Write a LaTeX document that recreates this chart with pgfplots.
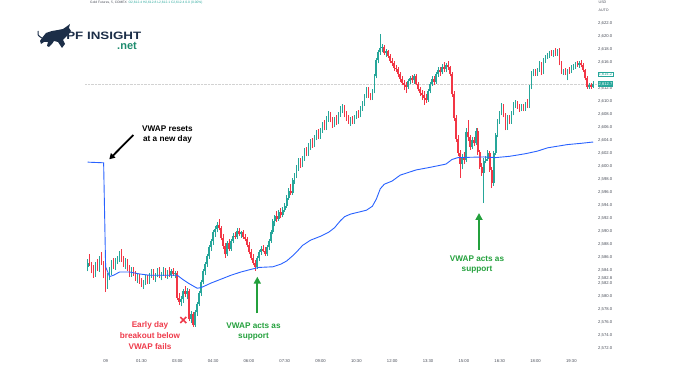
\documentclass[border=0pt]{standalone}
\usepackage{fontspec}
\setmainfont{Liberation Sans}
\usepackage{pgfplots}
\pgfplotsset{compat=1.18}
\usepackage{pgfplotstable}
\usetikzlibrary{arrows.meta}
\definecolor{cgreen}{HTML}{26A69A}
\definecolor{cred}{HTML}{F23645}
\definecolor{vwap}{HTML}{2962FF}
\definecolor{annred}{HTML}{EE3B4B}
\definecolor{anngreen}{HTML}{23A03C}
\definecolor{navy}{HTML}{1C2E48}
\definecolor{netgreen}{HTML}{1E8C6E}
\definecolor{axgray}{HTML}{4A4E59}

\pgfplotstableread{
i o h l c
0 2584.6 2585.8 2583.9 2585.2
1 2585.2 2586.5 2584.7 2584.9
2 2584.9 2585.4 2583.6 2584.1
3 2584.1 2584.8 2582.9 2583.4
4 2583.4 2585.3 2583.0 2584.9
5 2584.9 2585.8 2584.0 2584.3
6 2584.3 2586.2 2583.8 2585.7
7 2585.7 2586.8 2584.9 2585.0
8 2585.0 2585.5 2582.8 2583.3
9 2583.3 2584.8 2580.7 2582.0
10 2582.0 2583.6 2581.2 2583.2
11 2583.2 2584.5 2582.5 2584.0
12 2584.0 2585.6 2583.4 2585.1
13 2585.1 2585.9 2584.2 2584.7
14 2584.7 2586.0 2584.1 2585.6
15 2585.6 2586.3 2585.0 2585.9
16 2585.9 2587.0 2585.3 2586.5
17 2586.5 2587.3 2585.4 2585.7
18 2585.7 2586.2 2584.6 2585.0
19 2585.0 2585.9 2584.2 2585.5
20 2585.5 2585.8 2584.0 2584.3
21 2584.3 2584.9 2583.1 2583.6
22 2583.6 2584.5 2583.0 2584.1
23 2584.1 2584.6 2583.2 2583.4
24 2583.4 2584.0 2582.4 2582.8
25 2582.8 2583.6 2582.1 2583.2
26 2583.2 2583.5 2582.0 2582.3
27 2582.3 2582.9 2581.5 2581.9
28 2581.9 2582.5 2581.2 2582.3
29 2582.3 2583.4 2581.8 2583.0
30 2583.0 2583.3 2581.9 2582.2
31 2582.2 2583.7 2582.0 2583.5
32 2583.5 2584.3 2582.9 2583.9
33 2583.9 2584.2 2582.6 2582.9
34 2582.9 2583.6 2582.3 2583.3
35 2583.3 2584.4 2583.0 2584.0
36 2584.0 2584.5 2582.8 2583.1
37 2583.1 2583.8 2582.5 2583.6
38 2583.6 2584.6 2583.2 2584.2
39 2584.2 2584.4 2582.9 2583.3
40 2583.3 2584.1 2582.7 2583.8
41 2583.8 2584.5 2583.1 2583.4
42 2583.4 2584.2 2582.8 2583.9
43 2583.9 2584.4 2583.2 2583.5
44 2583.5 2584.0 2582.8 2583.7
45 2583.7 2583.9 2579.5 2579.8
46 2579.8 2580.6 2578.7 2579.2
47 2579.2 2580.1 2578.5 2579.6
48 2579.6 2581.2 2579.0 2580.8
49 2580.8 2581.6 2580.0 2580.4
50 2580.4 2581.3 2579.6 2580.9
51 2580.9 2581.2 2576.2 2576.6
52 2576.6 2577.8 2575.9 2577.3
53 2577.3 2577.6 2575.3 2575.6
54 2575.6 2577.9 2575.4 2577.6
55 2577.6 2579.2 2577.0 2578.9
56 2578.9 2580.8 2578.6 2580.5
57 2580.5 2582.6 2580.1 2582.3
58 2582.3 2584.2 2581.9 2583.9
59 2583.9 2585.4 2583.3 2585.0
60 2585.0 2586.6 2584.6 2586.2
61 2586.2 2587.9 2585.8 2587.6
62 2587.6 2588.9 2587.1 2588.5
63 2588.5 2590.3 2588.0 2589.9
64 2589.9 2590.8 2589.2 2590.4
65 2590.4 2591.5 2589.9 2591.0
66 2591.0 2591.9 2590.2 2590.5
67 2590.5 2590.8 2588.7 2589.0
68 2589.0 2589.6 2587.4 2587.8
69 2587.8 2588.3 2586.0 2586.5
70 2586.5 2588.6 2586.2 2588.2
71 2588.2 2588.9 2587.0 2587.4
72 2587.4 2588.9 2587.1 2588.6
73 2588.6 2589.8 2588.2 2589.4
74 2589.4 2590.0 2588.9 2589.2
75 2589.2 2590.5 2588.8 2590.1
76 2590.1 2590.6 2589.3 2589.6
77 2589.6 2590.1 2589.0 2589.9
78 2589.9 2590.3 2588.9 2589.2
79 2589.2 2589.7 2588.5 2588.8
80 2588.8 2589.2 2587.6 2588.0
81 2588.0 2588.4 2586.5 2586.9
82 2586.9 2587.3 2585.6 2586.0
83 2586.0 2586.5 2584.8 2585.2
84 2585.2 2585.7 2584.0 2584.6
85 2584.6 2586.2 2584.3 2585.9
86 2585.9 2587.2 2585.5 2586.9
87 2586.9 2587.8 2586.4 2587.4
88 2587.4 2587.9 2586.8 2587.1
89 2587.1 2587.6 2586.3 2586.6
90 2586.6 2587.9 2586.3 2587.6
91 2587.6 2588.9 2587.2 2588.6
92 2588.6 2590.3 2588.3 2590.0
93 2590.0 2592.0 2589.6 2591.7
94 2591.7 2592.6 2590.8 2592.4
95 2592.4 2593.2 2591.5 2592.0
96 2592.0 2593.4 2591.7 2593.0
97 2593.0 2593.6 2592.1 2592.5
98 2592.5 2593.8 2592.2 2593.4
99 2593.4 2594.4 2593.0 2594.0
100 2594.0 2595.6 2593.7 2595.2
101 2595.2 2596.7 2594.9 2596.3
102 2596.3 2597.3 2595.6 2596.0
103 2596.0 2598.3 2595.7 2598.0
104 2598.0 2599.0 2597.4 2598.6
105 2598.6 2600.2 2598.2 2599.8
106 2599.8 2601.3 2599.4 2600.9
107 2600.9 2601.4 2599.8 2600.2
108 2600.2 2601.6 2599.9 2601.2
109 2601.2 2602.9 2600.9 2602.6
110 2602.6 2603.1 2601.6 2602.0
111 2602.0 2603.6 2601.7 2603.2
112 2603.2 2604.2 2602.6 2603.8
113 2603.8 2604.4 2602.9 2603.3
114 2603.3 2604.8 2603.0 2604.5
115 2604.5 2605.7 2604.1 2605.3
116 2605.3 2605.8 2604.2 2604.6
117 2604.6 2606.0 2604.3 2605.7
118 2605.7 2606.9 2605.2 2606.5
119 2606.5 2607.2 2605.6 2606.0
120 2606.0 2607.8 2605.7 2607.4
121 2607.4 2608.5 2606.9 2608.0
122 2608.0 2608.4 2606.8 2607.1
123 2607.1 2607.6 2606.0 2606.4
124 2606.4 2607.7 2606.1 2607.3
125 2607.3 2607.9 2606.4 2606.8
126 2606.8 2608.4 2606.5 2608.1
127 2608.1 2609.3 2607.7 2608.9
128 2608.9 2609.6 2608.2 2609.2
129 2609.2 2609.5 2607.6 2607.9
130 2607.9 2608.6 2607.0 2607.4
131 2607.4 2607.9 2606.6 2607.0
132 2607.0 2607.6 2606.3 2607.3
133 2607.3 2607.8 2606.5 2606.9
134 2606.9 2608.0 2606.6 2607.7
135 2607.7 2608.6 2607.3 2608.3
136 2608.3 2608.8 2607.5 2607.9
137 2607.9 2609.3 2607.6 2609.0
138 2609.0 2610.1 2608.6 2609.8
139 2609.8 2611.2 2609.4 2610.9
140 2610.9 2612.3 2610.5 2611.9
141 2611.9 2612.2 2610.6 2610.9
142 2610.9 2611.4 2610.2 2610.6
143 2610.6 2612.0 2610.3 2611.6
144 2611.6 2614.2 2611.3 2613.9
145 2613.9 2616.8 2613.6 2616.4
146 2616.4 2618.0 2615.9 2617.6
147 2617.6 2620.4 2617.2 2618.3
148 2618.3 2618.9 2617.6 2618.4
149 2618.4 2618.7 2617.2 2617.5
150 2617.5 2618.1 2616.9 2617.8
151 2617.8 2618.0 2616.8 2617.1
152 2617.1 2617.4 2615.9 2616.3
153 2616.3 2616.8 2615.5 2616.0
154 2616.0 2616.3 2614.8 2615.2
155 2615.2 2615.7 2614.6 2615.0
156 2615.0 2615.3 2613.8 2614.2
157 2614.2 2614.6 2613.1 2613.5
158 2613.5 2613.9 2612.5 2612.9
159 2612.9 2613.4 2611.8 2612.6
160 2612.6 2613.0 2611.4 2612.3
161 2612.3 2613.5 2612.0 2613.2
162 2613.2 2614.0 2612.7 2613.7
163 2613.7 2614.1 2612.9 2613.3
164 2613.3 2614.3 2612.8 2613.9
165 2613.9 2614.2 2612.5 2612.8
166 2612.8 2613.1 2611.6 2611.9
167 2611.9 2612.3 2610.9 2611.4
168 2611.4 2611.8 2610.3 2611.0
169 2611.0 2611.6 2609.5 2610.6
170 2610.6 2611.2 2609.8 2610.3
171 2610.3 2612.0 2610.0 2611.7
172 2611.7 2613.1 2611.3 2612.8
173 2612.8 2613.9 2612.4 2613.5
174 2613.5 2614.0 2612.6 2613.1
175 2613.1 2614.6 2612.8 2614.2
176 2614.2 2615.3 2613.8 2614.9
177 2614.9 2615.4 2614.0 2614.5
178 2614.5 2615.8 2614.2 2615.4
179 2615.4 2616.1 2614.6 2615.0
180 2615.0 2616.0 2614.5 2615.7
181 2615.7 2616.3 2614.9 2615.3
182 2615.3 2615.5 2613.9 2614.3
183 2614.3 2614.5 2610.8 2611.2
184 2611.2 2611.6 2607.0 2607.5
185 2607.5 2607.9 2603.8 2604.3
186 2604.3 2604.8 2601.6 2602.1
187 2602.1 2602.6 2598.3 2600.4
188 2600.4 2601.9 2599.6 2601.5
189 2601.5 2602.3 2600.4 2601.0
190 2601.0 2606.0 2600.7 2605.4
191 2605.4 2607.2 2604.0 2604.5
192 2604.5 2604.9 2602.6 2603.0
193 2603.0 2604.5 2602.7 2604.1
194 2604.1 2604.6 2603.2 2603.6
195 2603.6 2605.9 2603.3 2605.5
196 2605.5 2605.9 2601.8 2602.2
197 2602.2 2602.6 2599.6 2600.0
198 2600.0 2600.6 2598.6 2599.1
199 2599.1 2601.4 2594.4 2600.9
200 2600.9 2601.7 2600.5 2601.2
201 2601.2 2602.6 2600.9 2602.1
202 2602.1 2602.4 2599.2 2599.5
203 2599.5 2599.9 2596.7 2597.5
204 2597.5 2602.4 2597.1 2602.1
205 2602.1 2605.2 2601.8 2604.9
206 2604.9 2607.4 2604.5 2607.0
207 2607.0 2608.6 2606.6 2608.3
208 2608.3 2609.8 2607.9 2609.3
209 2609.3 2609.6 2607.6 2608.0
210 2608.0 2608.3 2605.6 2606.0
211 2606.0 2607.9 2605.7 2607.6
212 2607.6 2608.0 2606.5 2606.9
213 2606.9 2608.5 2606.6 2608.2
214 2608.2 2609.9 2607.9 2609.6
215 2609.6 2610.2 2609.1 2609.8
216 2609.8 2610.1 2608.9 2609.4
217 2609.4 2609.7 2608.4 2608.8
218 2608.8 2609.6 2608.5 2609.3
219 2609.3 2609.7 2608.5 2608.9
220 2608.9 2610.0 2608.6 2609.6
221 2609.6 2610.4 2609.0 2609.3
222 2609.3 2612.5 2609.0 2612.2
223 2612.2 2614.7 2611.9 2614.4
224 2614.4 2615.0 2613.9 2614.6
225 2614.6 2615.1 2614.0 2614.3
226 2614.3 2615.2 2614.0 2614.9
227 2614.9 2616.2 2614.6 2615.9
228 2615.9 2616.1 2614.1 2614.4
229 2614.4 2616.7 2614.2 2616.4
230 2616.4 2617.2 2616.0 2616.9
231 2616.9 2617.5 2616.5 2617.2
232 2617.2 2617.8 2616.8 2617.4
233 2617.4 2618.0 2617.0 2617.3
234 2617.3 2617.9 2616.9 2617.6
235 2617.6 2618.2 2617.1 2617.4
236 2617.4 2618.1 2617.0 2617.8
237 2617.8 2618.3 2615.6 2615.9
238 2615.9 2616.2 2614.2 2614.6
239 2614.6 2615.1 2614.1 2614.8
240 2614.8 2615.2 2614.1 2614.4
241 2614.4 2615.0 2613.3 2614.9
242 2614.9 2615.3 2614.3 2614.6
243 2614.6 2615.6 2614.4 2615.3
244 2615.3 2615.8 2614.9 2615.5
245 2615.5 2616.1 2615.1 2615.8
246 2615.8 2616.3 2615.4 2615.6
247 2615.6 2616.2 2615.2 2615.9
248 2615.9 2616.4 2615.3 2615.7
249 2615.7 2616.0 2614.6 2614.9
250 2614.9 2615.1 2613.3 2613.6
251 2613.6 2613.9 2612.0 2612.3
252 2612.3 2612.9 2611.9 2612.5
253 2612.5 2612.9 2612.0 2612.3
254 2612.3 2613.2 2612.1 2612.7
}\candles

\pgfplotstableread{
i v
0 2600.7
8 2600.6
9 2584.6
11 2583.1
13 2583.3
16 2583.8
21 2583.8
26 2583.5
31 2583.3
45 2583.3
48 2582.6
51 2582.0
55 2581.3
57 2581.4
62 2582.1
67 2582.7
72 2583.3
77 2583.8
82 2584.2
86 2584.5
93 2584.6
97 2585.0
100 2585.5
103 2586.3
105 2586.9
108 2587.9
112 2588.7
117 2589.3
121 2589.9
124 2590.6
127 2591.7
129 2592.3
132 2592.7
136 2593.0
140 2593.3
143 2593.9
145 2595.0
147 2596.6
149 2597.3
153 2597.8
157 2598.7
165 2599.5
172 2599.9
180 2600.4
183 2601.1
186 2601.4
199 2601.5
205 2601.4
212 2601.6
220 2602.0
226 2602.4
231 2602.9
241 2603.4
248 2603.6
254 2603.8
}\vwapdata

\begin{document}
\begin{tikzpicture}
\begin{axis}[
  at={(85bp,13bp)}, anchor=south west,
  scale only axis, width=512bp, height=337bp,
  xmin=-1.36, xmax=255.9, ymin=2571.49, ymax=2623.34,
  axis line style={draw=none}, major tick length=0pt,
  scaled y ticks=false,
  /pgf/number format/assume math mode=true,
  xtick={9,27,...,243},
  xticklabels={09,01:30,03:00,04:30,06:00,07:30,09:00,10:30,12:00,13:30,15:00,16:30,18:00,19:30},
  ytick={2572,2574,...,2612,2616,2618,2620,2622},
  yticklabel pos=right,
  tick label style={font=\fontsize{4.2bp}{5bp}\selectfont, text=axgray},
  yticklabel style={anchor=west, inner sep=0.5bp, xshift=0.5bp,
    /pgf/number format/fixed, /pgf/number format/fixed zerofill,
    /pgf/number format/precision=1, /pgf/number format/1000 sep={,}},
  xticklabel style={yshift=-4.5bp},
  clip=true, unbounded coords=discard,
]
\draw[gray!35, densely dotted, line width=0.4bp] (axis cs:-1.36,2612.7) -- (axis cs:255.9,2612.7);
% wicks (rising candles, then falling candles)
\addplot[color=cgreen, line width=0.6bp, mark=none, forget plot,
  restrict expr to domain={\thisrow{c}-\thisrow{o}}{0:1000},
  quiver={u=0, v=\thisrow{h}-\thisrow{l}}]
  table[x=i, y=l]{\candles};
\addplot[color=cred, line width=0.6bp, mark=none, forget plot,
  restrict expr to domain={\thisrow{c}-\thisrow{o}}{-1000:-0.01},
  quiver={u=0, v=\thisrow{h}-\thisrow{l}}]
  table[x=i, y=l]{\candles};
% bodies
\addplot[color=cgreen, line width=1.6bp, mark=none, forget plot,
  restrict expr to domain={\thisrow{c}-\thisrow{o}}{0:1000},
  quiver={u=0, v=\thisrow{c}-\thisrow{o}}]
  table[x=i, y=o]{\candles};
\addplot[color=cred, line width=1.6bp, mark=none, forget plot,
  restrict expr to domain={\thisrow{c}-\thisrow{o}}{-1000:-0.01},
  quiver={u=0, v=\thisrow{o}-\thisrow{c}}]
  table[x=i, y=c]{\candles};
% VWAP
\addplot[color=vwap, line width=0.9bp, mark=none] table[x=i, y=v]{\vwapdata};
\end{axis}

% price boxes on the right scale
\node[anchor=west, draw=cgreen, fill=white, text=cgreen, inner sep=0.6bp, line width=0.3bp,
  font=\fontsize{4.2bp}{5bp}\selectfont] at (597.5bp,291bp) {2,614.2};
\node[anchor=west, fill=cgreen, text=white, inner sep=0.8bp,
  font=\fontsize{4.2bp}{5bp}\selectfont] at (597.5bp,281bp) {2,612.7};
\node[anchor=west, text=axgray, inner sep=0.5bp, font=\fontsize{4.2bp}{5bp}\selectfont] at (597.5bp,86.3bp) {2,582.8};
\node[anchor=west, text=axgray, inner sep=0.5bp, font=\fontsize{3.6bp}{4bp}\selectfont] at (598bp,362.3bp) {USD};
\node[anchor=west, text=axgray, inner sep=0.5bp, font=\fontsize{3.6bp}{4bp}\selectfont] at (598bp,354.7bp) {AUTO};

% header
\node[anchor=west, inner sep=0pt, text=axgray, font=\fontsize{3.3bp}{4bp}\selectfont] at (90bp,362.3bp)
  {Gold Futures, 5, COMEX\enspace{\color{cgreen}O2,612.4 H2,612.8 L2,612.1 C2,612.4 0.0 (0.00\%)}};

% logo
\fill[navy] (42bp,327bp) -- (46bp,332bp) -- (52bp,334bp) -- (58bp,335bp) -- (63bp,336bp) -- (66bp,338bp)
  -- (70bp,341bp) -- (69bp,337bp) -- (71bp,334bp) -- (69bp,331bp) -- (66bp,328bp) -- (63bp,325bp)
  -- (65bp,321bp) -- (62bp,317bp) -- (60bp,320bp) -- (58bp,323bp) -- (54bp,324bp) -- (52bp,321bp)
  -- (49bp,318bp) -- (47bp,319bp) -- (48bp,323bp) -- (44bp,323bp) -- (41bp,321bp) -- (40bp,324bp) -- cycle;
\draw[navy, line width=1bp] (42bp,327bp) .. controls (38bp,329bp) and (37bp,331bp) .. (38bp,334bp);
\node[anchor=west, inner sep=0pt, text=navy, xscale=1.25, font=\fontsize{10.7bp}{12bp}\selectfont\bfseries]
  at (66bp,329.5bp) {PF INSIGHT};
\node[inner sep=0pt, text=netgreen, font=\fontsize{11bp}{12bp}\selectfont\bfseries] at (127bp,319.5bp) {.net};

% annotations
\node[align=center, inner sep=0pt, font=\fontsize{8.2bp}{10bp}\selectfont\bfseries] at (167.5bp,230bp)
  {VWAP resets\\at a new day};
\draw[line width=1.8bp, -{Triangle[length=5.5bp,width=6bp]}] (133.3bp,230bp) -- (109.3bp,205.7bp);

\node[align=center, inner sep=0pt, text=annred, font=\fontsize{8.2bp}{11bp}\selectfont\bfseries] at (150bp,29bp)
  {Early day\\breakout below\\VWAP fails};
\draw[annred, line width=1.5bp] (180.3bp,42bp) -- (186.3bp,48bp) (180.3bp,48bp) -- (186.3bp,42bp);

\draw[anngreen, line width=2.2bp, -{Triangle[length=7bp,width=7bp]}] (257.3bp,51.7bp) -- (257.3bp,88.3bp);
\node[align=center, inner sep=0pt, text=anngreen, font=\fontsize{8.2bp}{10.5bp}\selectfont\bfseries] at (253.5bp,33.3bp)
  {VWAP acts as\\support};
\draw[anngreen, line width=2.2bp, -{Triangle[length=7bp,width=7bp]}] (479bp,115bp) -- (479bp,152bp);
\node[align=center, inner sep=0pt, text=anngreen, font=\fontsize{8.2bp}{10.5bp}\selectfont\bfseries] at (477bp,100.5bp)
  {VWAP acts as\\support};

\pgfresetboundingbox
\path[use as bounding box] (0,0) rectangle (700bp,365bp);
\end{tikzpicture}
\end{document}
